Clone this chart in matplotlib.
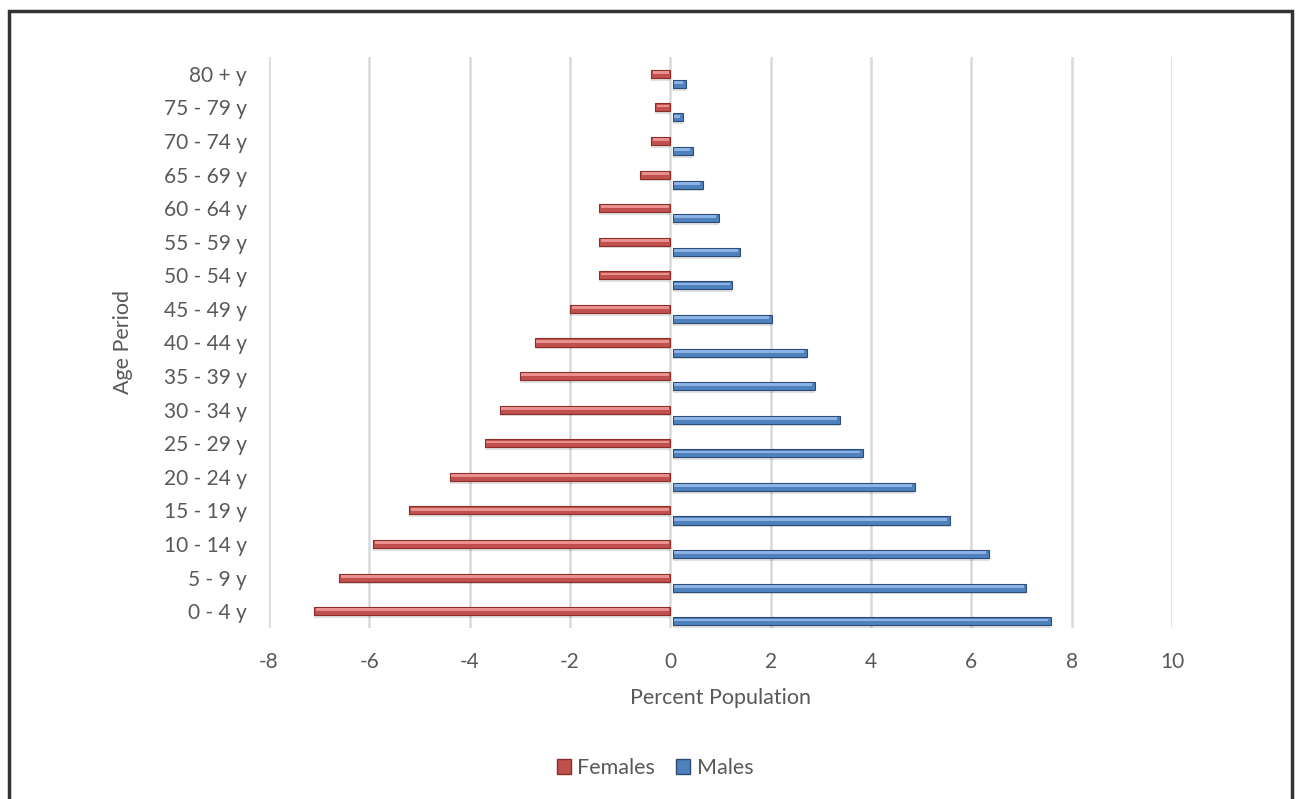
import numpy as np
import matplotlib.pyplot as plt
from matplotlib.patches import Rectangle, Patch

plt.rcParams["font.family"] = ["Lato", "DejaVu Sans"]

age_groups = ["0 - 4 y", "5 - 9 y", "10 - 14 y", "15 - 19 y", "20 - 24 y", "25 - 29 y",
              "30 - 34 y", "35 - 39 y", "40 - 44 y", "45 - 49 y", "50 - 54 y", "55 - 59 y",
              "60 - 64 y", "65 - 69 y", "70 - 74 y", "75 - 79 y", "80 + y"]
females = [-7.1, -6.6, -5.92, -5.2, -4.4, -3.7, -3.4, -3.0, -2.7, -2.0,
           -1.42, -1.42, -1.42, -0.6, -0.38, -0.3, -0.38]
males = [7.53, 7.04, 6.3, 5.52, 4.82, 3.79, 3.33, 2.83, 2.67, 1.97,
         1.18, 1.34, 0.92, 0.6, 0.4, 0.2, 0.26]
x_ticks = [-8, -6, -4, -2, 0, 2, 4, 6, 8, 10]

text_col = "#595959"
fs_tick = 15
fs_lab = 15.5
red, red_hi, red_dk = "#C0504D", "#E8908D", "#8C2D2A"
blue, blue_hi, blue_dk = "#4F81BD", "#8DB3E6", "#2B4C76"

fig = plt.figure(figsize=(12.96, 7.99), dpi=100)
ax = fig.add_axes([269 / 1296, 1 - 628 / 799, (1172 - 269) / 1296, (628 - 57) / 799])

y = np.arange(len(age_groups))
h = 0.24
y_f = y + 0.0
y_m = y - 0.30

# soft shadows under each bar
ax.barh(y_f - 0.08, females, height=h, left=0, color="#000000", alpha=0.12, zorder=2)
ax.barh(y_m - 0.08, males, height=h, left=0.05, color="#000000", alpha=0.12, zorder=2)

# main bars with a dark edge and a lighter top stripe
ax.barh(y_f, females, height=h, color=red, edgecolor=red_dk, linewidth=0.8, zorder=3)
ax.barh(y_f + 0.04, np.array(females) + 0.06, height=h * 0.35, left=-0.03,
        color=red_hi, linewidth=0, zorder=4)
ax.barh(y_m, males, height=h, left=0.05, color=blue, edgecolor=blue_dk, linewidth=0.8, zorder=3)
ax.barh(y_m + 0.04, np.array(males) - 0.08, height=h * 0.35, left=0.08,
        color=blue_hi, linewidth=0, zorder=4)

ax.set_xlim(-8, 10)
ax.set_ylim(-0.5, len(age_groups) - 0.5)
ax.set_xticks(x_ticks)
ax.set_xticklabels([str(t) for t in x_ticks])
ax.set_yticks(y)
ax.set_yticklabels(age_groups)
ax.tick_params(axis="both", length=0, labelsize=fs_tick, colors=text_col)
ax.tick_params(axis="x", pad=17)
ax.tick_params(axis="y", pad=16)
ax.grid(axis="x", color="#D9D9D9", linewidth=1.8, zorder=0)
ax.set_axisbelow(True)
for s in ax.spines.values():
    s.set_visible(False)

ax.set_xlabel("Percent Population", fontsize=fs_lab, color=text_col, labelpad=12)
ax.set_ylabel("Age Period", fontsize=fs_lab, color=text_col, labelpad=22)

handles = [Patch(facecolor=red, edgecolor=red_dk, label="Females"),
           Patch(facecolor=blue, edgecolor=blue_dk, label="Males")]
leg = fig.legend(handles=handles, loc="center", bbox_to_anchor=(655 / 1296, 1 - 768 / 799),
                 ncol=2, frameon=False, fontsize=fs_lab, handlelength=0.65, handleheight=0.65,
                 handletextpad=0.3, columnspacing=1.0)
for t in leg.get_texts():
    t.set_color(text_col)

# outer frame, open at the bottom edge
fig.patches.append(Rectangle((9 / 1296, -0.05), (1292 - 9) / 1296, 1.05 - 11 / 799,
                             transform=fig.transFigure, fill=False,
                             edgecolor="#333333", linewidth=2.5))

fig.savefig("out.png", dpi=100)
